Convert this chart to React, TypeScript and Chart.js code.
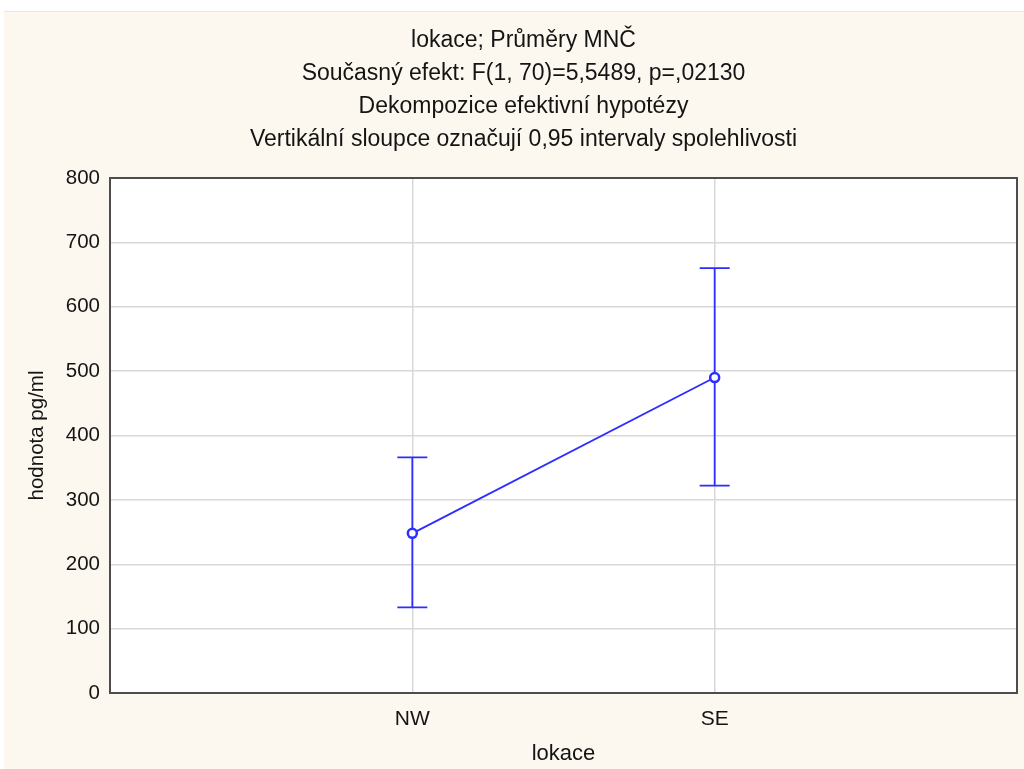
import React, { useEffect, useRef } from "react";
import { Chart, registerables } from "chart.js";

Chart.register(...registerables);

const categories = ["NW", "SE"];
const means = [248, 490];
const lowerCI = [133, 322];
const upperCI = [366, 660];
const yTicks = [0, 100, 200, 300, 400, 500, 600, 700, 800];
const titleLines = [
  "lokace; Průměry MNČ",
  "Současný efekt: F(1, 70)=5,5489, p=,02130",
  "Dekompozice efektivní hypotézy",
  "Vertikální sloupce označují 0,95 intervaly spolehlivosti",
];
const xTitle = "lokace";
const yTitle = "hodnota pg/ml";

const FONT = "'Liberation Sans', Arial, sans-serif";
const BLUE = "rgb(45,45,255)";
const TEXT = "#141414";

const plotBg = {
  id: "plotBg",
  beforeDraw(chart: any) {
    const { ctx, chartArea } = chart;
    ctx.save();
    ctx.fillStyle = "#ffffff";
    ctx.fillRect(chartArea.left, chartArea.top, chartArea.right - chartArea.left, chartArea.bottom - chartArea.top);
    ctx.restore();
  },
};

const errorBars = {
  id: "errorBars",
  beforeDatasetsDraw(chart: any) {
    const { ctx, scales } = chart;
    const xs = scales.x;
    const ys = scales.y;
    ctx.save();
    ctx.strokeStyle = BLUE;
    ctx.lineWidth = 1.8;
    for (let i = 0; i < categories.length; i++) {
      const x = xs.getPixelForValue(i + 1);
      const yl = ys.getPixelForValue(lowerCI[i]);
      const yu = ys.getPixelForValue(upperCI[i]);
      ctx.beginPath();
      ctx.moveTo(x, yl);
      ctx.lineTo(x, yu);
      ctx.moveTo(x - 15, yl);
      ctx.lineTo(x + 15, yl);
      ctx.moveTo(x - 15, yu);
      ctx.lineTo(x + 15, yu);
      ctx.stroke();
    }
    ctx.restore();
  },
};

const frame = {
  id: "frame",
  afterDraw(chart: any) {
    const { ctx, chartArea } = chart;
    ctx.save();
    ctx.strokeStyle = "#4d4d4d";
    ctx.lineWidth = 2;
    ctx.strokeRect(chartArea.left, chartArea.top, chartArea.right - chartArea.left, chartArea.bottom - chartArea.top);
    ctx.restore();
  },
};

export default function App() {
  const ref = useRef<HTMLCanvasElement | null>(null);

  useEffect(() => {
    if (!ref.current) return;
    const chart = new Chart(ref.current, {
      type: "line",
      data: {
        datasets: [
          {
            data: means.map((m, i) => ({ x: i + 1, y: m })),
            borderColor: BLUE,
            borderWidth: 1.8,
            pointRadius: 4.5,
            pointBorderWidth: 2.5,
            pointBorderColor: BLUE,
            pointBackgroundColor: "#ffffff",
            fill: false,
          },
        ],
      },
      options: {
        responsive: false,
        animation: false,
        events: [],
        layout: { padding: { left: 26, right: 7, top: 0, bottom: 0 } },
        plugins: {
          legend: { display: false },
          tooltip: { enabled: false },
          title: {
            display: true,
            text: titleLines,
            color: TEXT,
            font: { family: FONT, size: 23, weight: "normal", lineHeight: "33px" },
            padding: { top: 12.5, bottom: 21.5 },
          },
        },
        scales: {
          x: {
            type: "linear",
            min: 0,
            max: 3,
            afterBuildTicks(scale: any) {
              scale.ticks = categories.map((_, i) => ({ value: i + 1 }));
            },
            afterFit(scale: any) {
              scale.height = 76;
            },
            ticks: {
              callback: (v: any) => categories[Number(v) - 1] ?? "",
              color: TEXT,
              font: { family: FONT, size: 21 },
              padding: 14,
              maxRotation: 0,
            },
            grid: { color: "#d8d8d8", lineWidth: 1.5, drawTicks: false },
            border: { display: false },
            title: {
              display: true,
              text: xTitle,
              color: TEXT,
              font: { family: FONT, size: 22 },
              padding: { top: 0, bottom: 2 },
            },
          },
          y: {
            min: 0,
            max: 800,
            afterBuildTicks(scale: any) {
              scale.ticks = yTicks.map((v) => ({ value: v }));
            },
            afterFit(scale: any) {
              scale.width = 80;
            },
            ticks: {
              color: TEXT,
              font: { family: FONT, size: 20.5 },
              padding: 10,
            },
            grid: { color: "#d8d8d8", lineWidth: 1.5, drawTicks: false },
            border: { display: false },
            title: {
              display: true,
              text: yTitle,
              color: TEXT,
              font: { family: FONT, size: 20.5 },
              padding: { top: -5, bottom: 0 },
            },
          },
        },
      },
      plugins: [plotBg, errorBars, frame],
    } as any);
    return () => chart.destroy();
  }, []);

  return (
    <div style={{ position: "fixed", left: 0, top: 0, width: 1024, height: 769, background: "#ffffff" }}>
      <div
        style={{
          position: "absolute",
          left: 4,
          top: 11,
          width: 1020,
          height: 758,
          background: "#fdf8ef",
          borderTop: "1px solid #eee8dc",
          boxSizing: "border-box",
        }}
      >
        <canvas ref={ref} width={1020} height={757} style={{ display: "block" }} />
      </div>
    </div>
  );
}
